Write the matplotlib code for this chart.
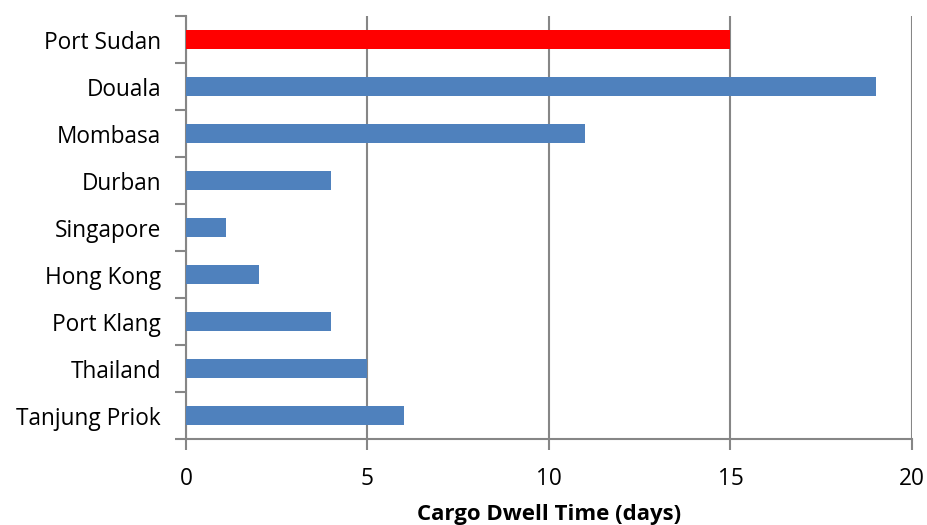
import matplotlib.pyplot as plt
import numpy as np

ports = ['Port Sudan', 'Douala', 'Mombasa', 'Durban', 'Singapore',
         'Hong Kong', 'Port Klang', 'Thailand', 'Tanjung Priok']
dwell = [15, 19, 11, 4, 1.1, 2, 4, 5, 6]
colors = ['#ff0000'] + ['#4f81bd'] * 8

plt.rcParams['font.family'] = ['Open Sans', 'DejaVu Sans']

fig = plt.figure(figsize=(9.27, 5.25), dpi=100)
ax = fig.add_axes([0.2006, 0.1638, 0.7832, 0.8057])

y = np.arange(len(ports))
ax.barh(y, dwell, height=0.4, color=colors, zorder=3)
ax.set_ylim(len(ports) - 0.5, -0.5)
ax.set_xlim(0, 20)
ax.set_xticks([0, 5, 10, 15, 20])

# category labels centred, tick marks on the boundaries
ax.set_yticks(y)
ax.set_yticklabels(ports, fontsize=16.3)
ax.tick_params(axis='y', which='major', length=0, pad=18)
ax.set_yticks(np.arange(-0.5, len(ports)), minor=True)
ax.tick_params(axis='y', which='minor', length=8, width=1.5, color='#868686')
ax.tick_params(axis='x', length=8, width=1.5, color='#868686', labelsize=16.3, pad=12)

ax.grid(axis='x', color='#868686', linewidth=1.5, zorder=0)
for s in ['top', 'right']:
    ax.spines[s].set_visible(False)
for s in ['left', 'bottom']:
    ax.spines[s].set_color('#868686')
    ax.spines[s].set_linewidth(1.5)

ax.set_xlabel('Cargo Dwell Time (days)', fontsize=16, fontweight='bold', labelpad=9.5)

fig.savefig('out.png', dpi=100)
